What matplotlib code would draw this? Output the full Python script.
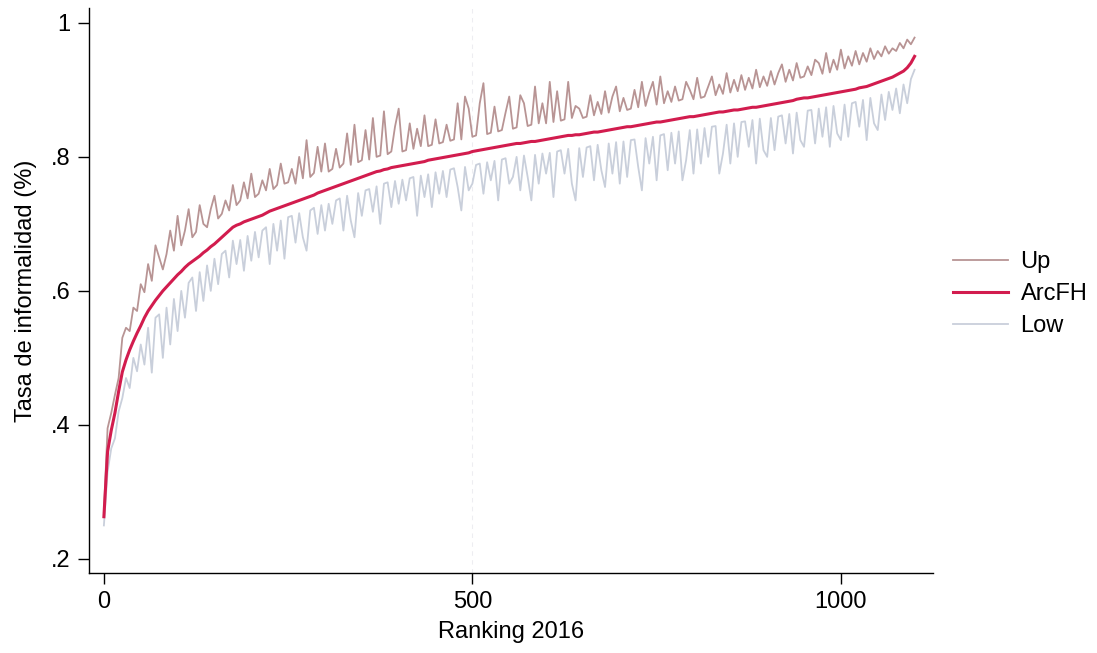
import numpy as np
import matplotlib
matplotlib.use("Agg")
import matplotlib.pyplot as plt

plt.rcParams['font.family'] = ['Liberation Sans', 'DejaVu Sans']

# Municipal ranking (every 5th position) and informality rates, in thousandths
ranking = list(range(0, 1101, 5))

arcfh = [
    263, 360, 392, 418, 450, 479, 497, 512, 525, 537,
    548, 560, 570, 578, 586, 593, 600, 606, 612, 618,
    624, 629, 635, 640, 644, 648, 652, 657, 661, 666,
    670, 675, 680, 685, 690, 695, 698, 700, 703, 705,
    707, 709, 711, 713, 716, 719, 721, 723, 725, 727,
    729, 731, 733, 735, 737, 739, 741, 743, 746, 748,
    750, 752, 754, 756, 758, 760, 762, 764, 766, 768,
    770, 772, 774, 776, 778, 779, 781, 782, 784, 785,
    786, 787, 788, 789, 790, 791, 792, 793, 795, 796,
    797, 798, 799, 800, 801, 802, 803, 804, 805, 806,
    808, 809, 810, 811, 812, 813, 814, 815, 816, 817,
    818, 819, 820, 820, 821, 822, 823, 823, 824, 825,
    826, 827, 828, 829, 830, 831, 832, 832, 833, 833,
    834, 835, 836, 837, 837, 838, 839, 840, 841, 842,
    843, 844, 845, 845, 846, 847, 848, 849, 850, 851,
    852, 852, 853, 854, 855, 856, 857, 858, 859, 860,
    860, 861, 862, 863, 864, 865, 866, 867, 867, 868,
    869, 870, 870, 871, 872, 873, 874, 874, 875, 876,
    877, 878, 879, 880, 881, 882, 883, 884, 886, 887,
    888, 888, 889, 890, 891, 892, 893, 894, 895, 896,
    897, 898, 899, 900, 901, 903, 904, 905, 907, 909,
    911, 913, 915, 917, 919, 922, 925, 928, 933, 940,
    950,
]

up = [
    270, 395, 418, 445, 470, 530, 545, 540, 575, 570,
    610, 598, 640, 615, 668, 650, 632, 655, 690, 660,
    712, 668, 690, 722, 680, 688, 728, 700, 695, 722,
    742, 708, 715, 735, 720, 758, 728, 735, 762, 738,
    775, 740, 745, 765, 750, 782, 752, 758, 790, 760,
    762, 782, 760, 800, 768, 825, 770, 776, 815, 778,
    820, 778, 782, 812, 784, 790, 835, 788, 848, 792,
    795, 840, 796, 858, 800, 802, 868, 804, 808, 845,
    872, 808, 810, 850, 812, 842, 816, 862, 816, 818,
    856, 820, 822, 848, 824, 826, 880, 826, 890, 872,
    830, 832, 880, 910, 834, 836, 875, 838, 840, 866,
    890, 842, 844, 892, 880, 846, 848, 905, 850, 880,
    850, 912, 852, 898, 854, 856, 912, 858, 876, 872,
    858, 860, 892, 862, 882, 864, 898, 866, 890, 905,
    868, 888, 870, 872, 900, 874, 912, 876, 896, 912,
    878, 920, 880, 898, 882, 905, 884, 886, 912, 900,
    886, 918, 888, 890, 905, 920, 892, 908, 894, 925,
    896, 915, 898, 922, 900, 918, 902, 930, 904, 920,
    906, 928, 908, 925, 938, 912, 930, 914, 940, 918,
    920, 935, 922, 945, 940, 924, 955, 926, 945, 930,
    960, 932, 950, 936, 958, 938, 955, 942, 962, 946,
    958, 950, 965, 954, 962, 958, 970, 962, 975, 968,
    978,
]

low = [
    250, 330, 365, 380, 420, 440, 470, 455, 500, 480,
    520, 490, 545, 478, 560, 565, 500, 575, 520, 588,
    540, 600, 560, 612, 620, 570, 628, 585, 638, 600,
    648, 610, 655, 660, 620, 675, 640, 676, 630, 682,
    645, 688, 650, 690, 695, 640, 700, 660, 705, 648,
    710, 712, 672, 716, 680, 660, 720, 724, 685, 728,
    690, 730, 700, 735, 738, 690, 742, 705, 680, 746,
    712, 750, 752, 718, 756, 700, 760, 762, 725, 764,
    730, 766, 735, 768, 770, 712, 772, 740, 774, 725,
    777, 745, 779, 740, 781, 783, 755, 720, 785, 750,
    760, 788, 790, 745, 792, 765, 794, 735, 796, 798,
    760, 770, 800, 750, 802, 770, 735, 803, 760, 805,
    775, 806, 740, 808, 810, 775, 812, 760, 735, 813,
    770, 814, 816, 765, 818, 780, 755, 820, 775, 822,
    760, 823, 770, 825, 826, 785, 750, 828, 790, 830,
    765, 832, 834, 780, 836, 790, 838, 765, 795, 840,
    775, 841, 790, 843, 800, 845, 846, 775, 805, 848,
    790, 850, 800, 852, 853, 815, 855, 790, 857, 810,
    800, 858, 810, 860, 862, 820, 864, 805, 866, 825,
    815, 869, 870, 820, 872, 830, 874, 815, 876, 835,
    825, 878, 830, 880, 882, 845, 885, 825, 888, 850,
    840, 893, 855, 897, 870, 902, 865, 908, 880, 916,
    930,
]

yticks = [0.2, 0.4, 0.6, 0.8, 1.0]
ytick_labels = [".2", ".4", ".6", ".8", "1"]
xticks = [0, 500, 1000]

x = np.array(ranking)
fig = plt.figure(figsize=(10.97, 6.53), dpi=100)
ax = fig.add_axes([0.081, 0.1225, 0.7695, 0.8655])

ax.axvline(500, color="#ededf1", lw=0.8, ls=(0, (4, 4)), zorder=0)

ax.plot(x, np.array(up) / 1000, color="#b89494", lw=1.3, label="Up", zorder=2)
ax.plot(x, np.array(low) / 1000, color="#c9cfdb", lw=1.3, label="Low", zorder=1)
ax.plot(x, np.array(arcfh) / 1000, color="#d21c4e", lw=2.2, label="ArcFH", zorder=3)

ax.set_xlim(-20.4, 1125)
ax.set_ylim(0.179, 1.0224)
ax.set_xticks(xticks)
ax.set_yticks(yticks)
ax.set_yticklabels(ytick_labels)
ax.tick_params(direction="out", length=8, width=1, labelsize=17, pad=5)

for side in ("top", "right"):
    ax.spines[side].set_visible(False)
for side in ("left", "bottom"):
    ax.spines[side].set_linewidth(1.0)

ax.set_xlabel("Ranking 2016", fontsize=17, labelpad=6)
ax.set_ylabel("Tasa de informalidad (%)", fontsize=17, labelpad=10)

handles, labels = ax.get_legend_handles_labels()
order = [labels.index(n) for n in ("Up", "ArcFH", "Low")]
fig.legend([handles[i] for i in order], [labels[i] for i in order],
           loc="center left", bbox_to_anchor=(0.869, 0.55), frameon=False,
           borderpad=0, borderaxespad=0,
           fontsize=17, handlelength=2.3, handletextpad=0.55, labelspacing=0.42)

fig.savefig("out.png", dpi=100, facecolor="white")
